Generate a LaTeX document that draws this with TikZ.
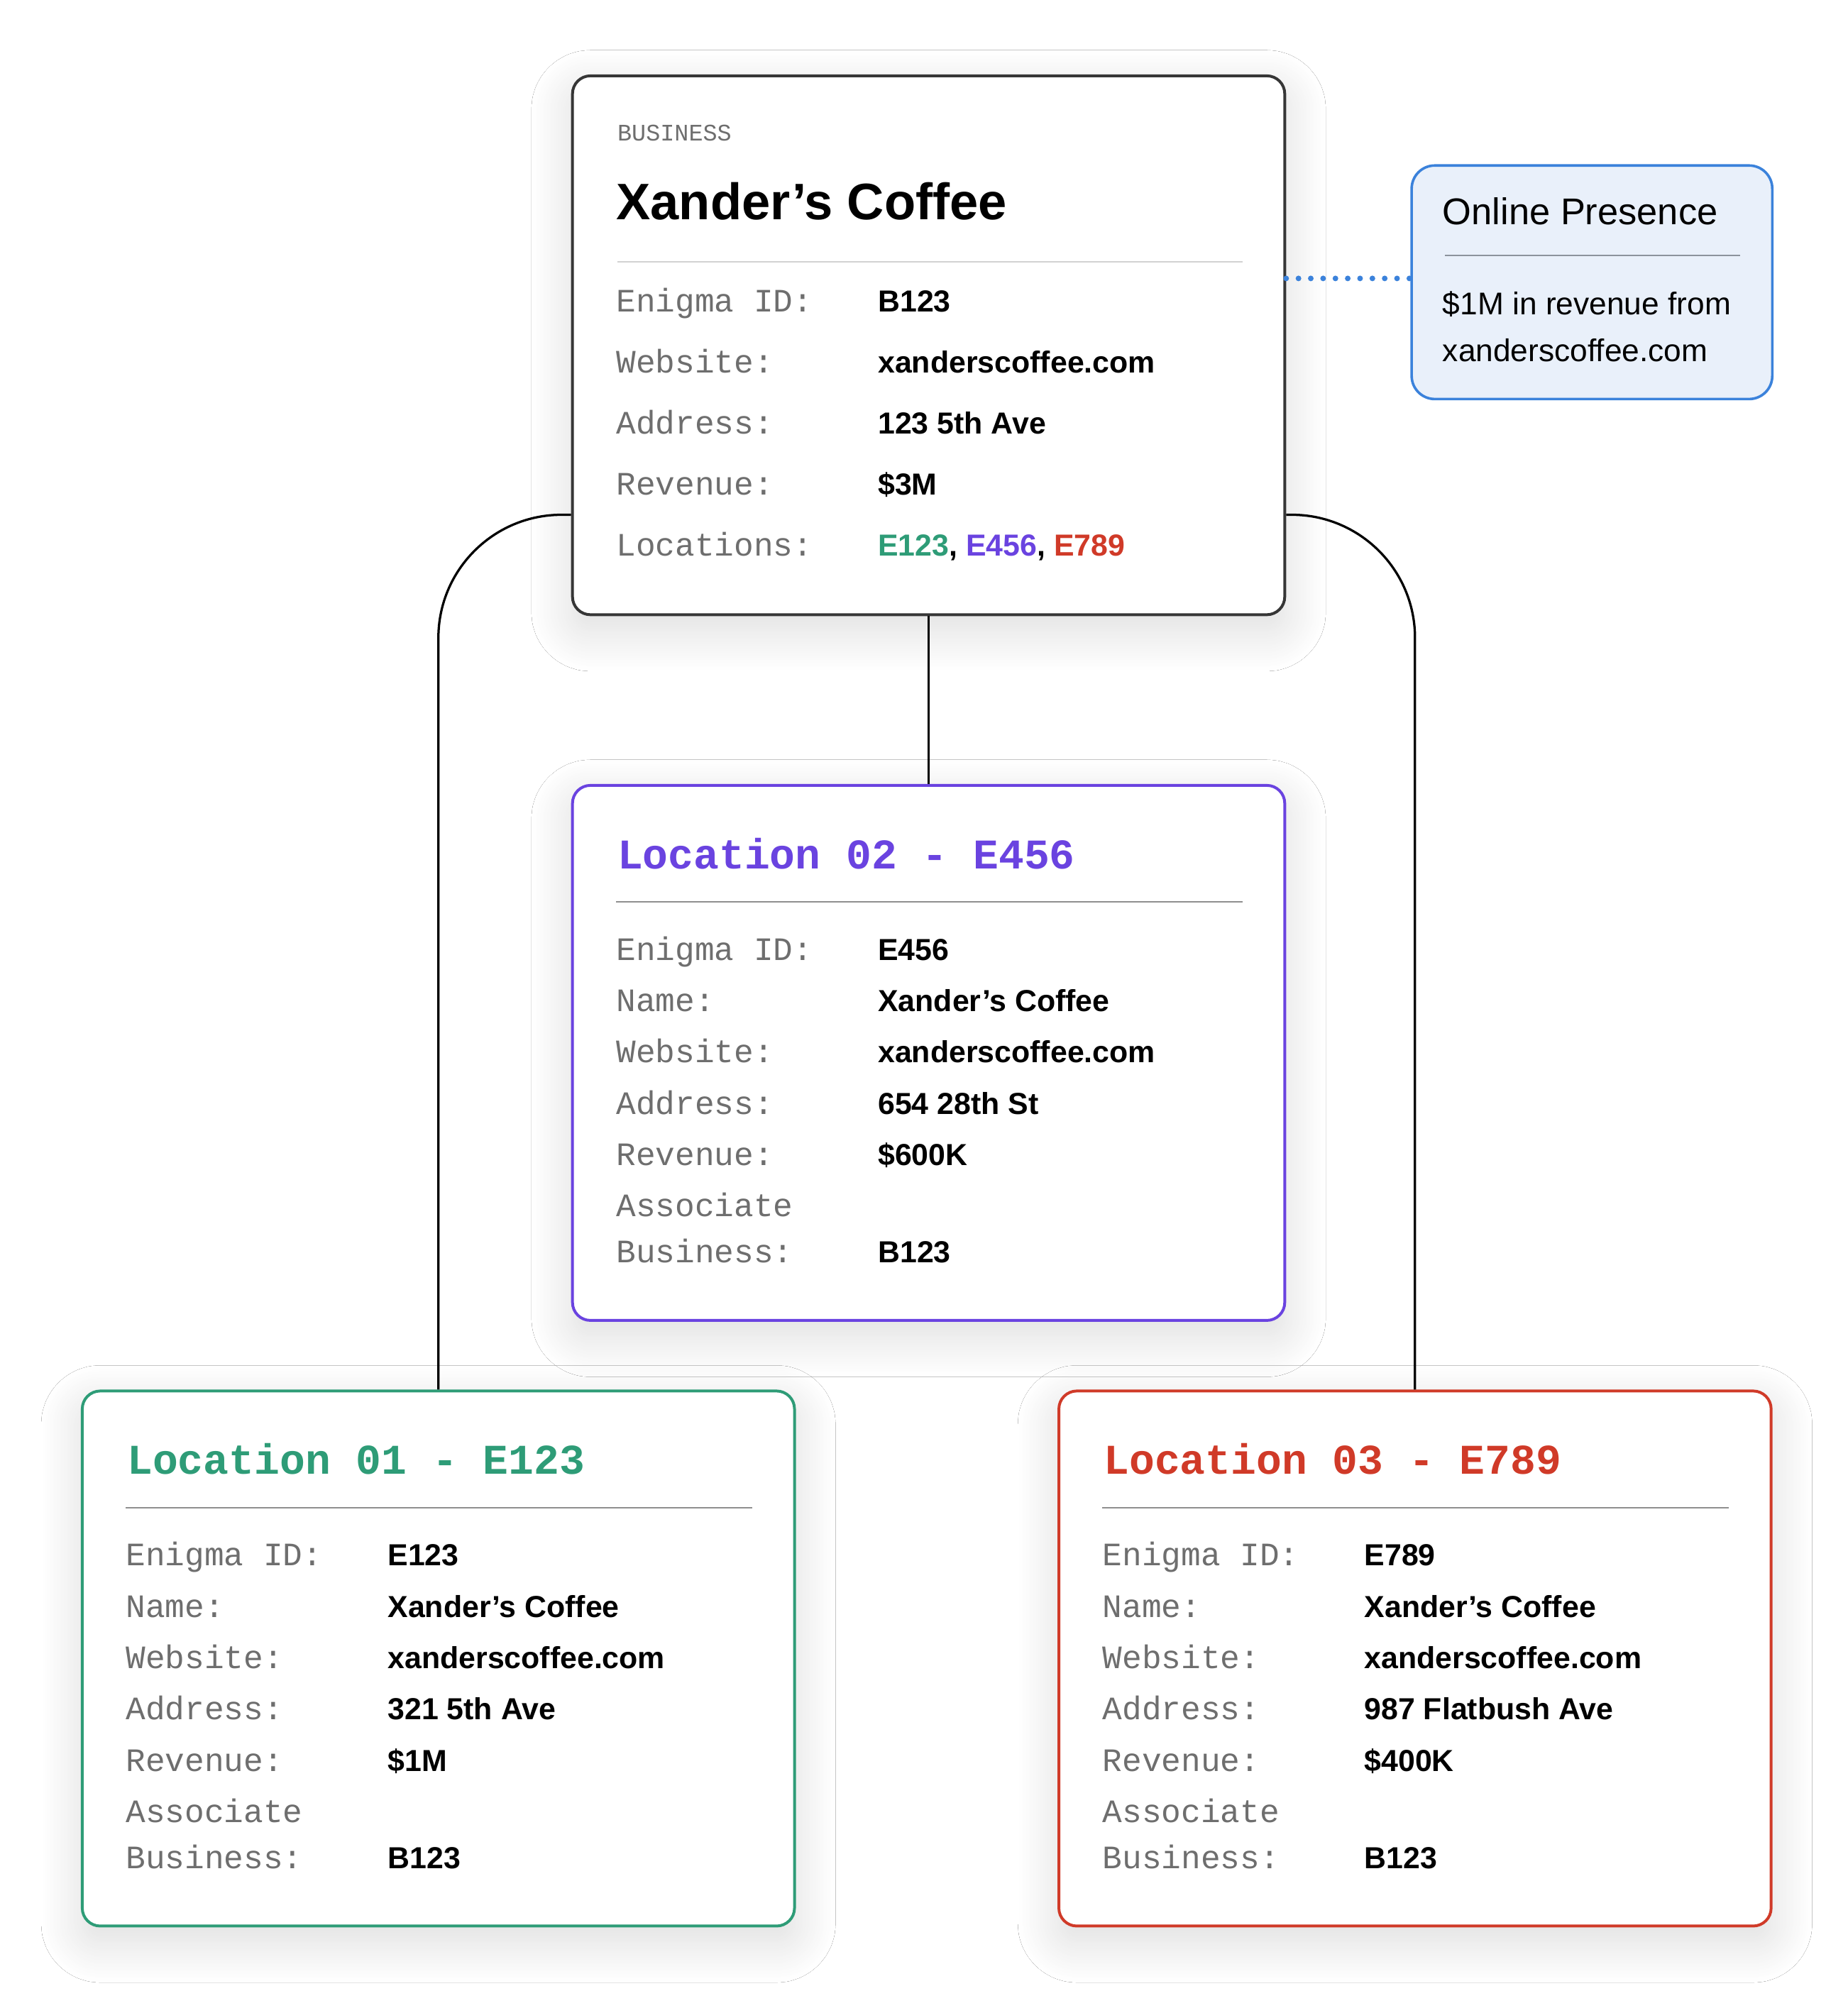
\documentclass[tikz,border=0pt]{standalone}
\usepackage{fontspec}
\setmainfont{Liberation Sans}
\newfontfamily\monofont{Liberation Mono}
\usetikzlibrary{calc, shadows.blur}

\definecolor{bizgray}{HTML}{363636}
\definecolor{keygray}{HTML}{6E6E6E}
\definecolor{lightrule}{HTML}{D2D2D2}
\definecolor{locrule}{HTML}{8F8F8F}
\definecolor{webrule}{HTML}{8C939C}
\definecolor{locgreen}{HTML}{2E9C77}
\definecolor{locpurple}{HTML}{6A43E0}
\definecolor{locred}{HTML}{D03A28}
\definecolor{webblue}{HTML}{3B82DB}
\definecolor{webfill}{HTML}{E9F0FA}

\tikzset{
  card/.style={draw=#1, fill=white, line width=2.2pt, rounded corners=14pt, inner sep=0pt,
    minimum width=555pt, minimum height=417pt, anchor=north west,
    blur shadow={shadow xshift=0pt, shadow yshift=-12pt, shadow blur radius=32pt,
      shadow blur steps=30, shadow opacity=14}},
  fieldkey/.style={anchor=base west, inner sep=0pt, text=keygray, font=\monofont\fontsize{25.5}{30}\selectfont},
  fieldval/.style={anchor=base west, inner sep=0pt, font=\bfseries\fontsize{23.7}{28}\selectfont},
  cardtitle/.style={anchor=base west, inner sep=0pt, font=\monofont\bfseries\fontsize{33}{38}\selectfont},
  divider/.style={draw=#1, line width=1.3pt},
  link/.style={draw=black, line width=1.8pt},
  webdots/.style={draw=webblue, line width=4.4pt, line cap=round, dash pattern=on 0pt off 9.6pt},
}

% location card: name, x, y, colour, number, id, address, revenue
\newcommand{\loccard}[8]{%
  \node[card=#4] (#1) at (#2,#3) {};
  \node[cardtitle, text=#4] (#1-title) at ([xshift=36pt,yshift=-66pt]#1.north west) {Location #5 - #6};
  \draw[divider=locrule] ([xshift=35pt,yshift=-92pt]#1.north west) -- ([xshift=-34pt,yshift=-92pt]#1.north east);
  \foreach \dy/\key/\val [count=\i] in {137.3/Enigma ID:/#6, 177.3/Name:/Xander’s Coffee,
      217.3/Website:/xanderscoffee.com, 257.3/Address:/#7, 297.3/Revenue:/#8,
      337.3/Associate/{}, 373.3/Business:/B123} {
    \node[fieldkey] (#1-k\i) at ([xshift=35pt,yshift=-\dy pt]#1.north west) {\key};
    \node[fieldval] (#1-v\i) at ([xshift=239pt,yshift=-\dy pt]#1.north west) {\val};
  }
}

\begin{document}
\begin{tikzpicture}[x=1pt, y=-1pt]
    \useasboundingbox[fill=white] (0,0) rectangle (1440,1565);

    \node[card=bizgray, minimum height=420pt] (biz) at (445,58) {};
    \node[fieldkey, font=\monofont\fontsize{18.5}{22}\selectfont] (biz-kind) at ([xshift=36pt,yshift=-51.7pt]biz.north west) {BUSINESS};
    \node[anchor=base west, inner sep=0pt, font=\bfseries\fontsize{40}{48}\selectfont] (biz-name) at ([xshift=35pt,yshift=-113.4pt]biz.north west) {Xander’s Coffee};
    \draw[divider=lightrule] ([xshift=36pt,yshift=-146pt]biz.north west) -- ([xshift=-34pt,yshift=-146pt]biz.north east);
    \foreach \dy/\key/\val [count=\i] in {185.3/Enigma ID:/B123, 232.8/Website:/xanderscoffee.com,
        280.3/Address:/123 5th Ave, 327.8/Revenue:/\$3M,
        375.3/Locations:/{\textcolor{locgreen}{E123}, \textcolor{locpurple}{E456}, \textcolor{locred}{E789}}} {
        \node[fieldkey] (biz-k\i) at ([xshift=35pt,yshift=-\dy pt]biz.north west) {\key};
        \node[fieldval] (biz-v\i) at ([xshift=239pt,yshift=-\dy pt]biz.north west) {\val};
    }

    \node[draw=webblue, fill=webfill, line width=2pt, rounded corners=18pt, inner sep=0pt,
        minimum width=281pt, minimum height=182pt, anchor=north west] (web) at (1099,128) {};
    \node[anchor=base west, inner sep=0pt, font=\fontsize{29}{34}\selectfont] (web-title) at ([xshift=25pt,yshift=-47pt]web.north west) {Online Presence};
    \draw[divider=webrule] ([xshift=27pt,yshift=-71pt]web.north west) -- ([xshift=-26pt,yshift=-71pt]web.north east);
    \node[anchor=base west, inner sep=0pt, font=\fontsize{24.5}{29}\selectfont] (web-l1) at ([xshift=25pt,yshift=-117pt]web.north west) {\$1M in revenue from};
    \node[anchor=base west, inner sep=0pt, font=\fontsize{24.5}{29}\selectfont] (web-l2) at ([xshift=25pt,yshift=-154pt]web.north west) {xanderscoffee.com};

    \loccard{loc2}{445}{611}{locpurple}{02}{E456}{654 28th St}{\$600K}
    \loccard{loc1}{63}{1083}{locgreen}{01}{E123}{321 5th Ave}{\$1M}
    \loccard{loc3}{824}{1083}{locred}{03}{E789}{987 Flatbush Ave}{\$400K}

    \draw[link] (biz.south) -- (loc2.north);
    \draw[link, rounded corners=96pt] ([yshift=79pt]biz.south west) -| (loc1.north);
    \draw[link, rounded corners=96pt] ([yshift=79pt]biz.south east) -| (loc3.north);
    \draw[webdots] ([yshift=3pt]web.west -| biz.east) -- ([yshift=3pt]web.west);
\end{tikzpicture}
\end{document}
